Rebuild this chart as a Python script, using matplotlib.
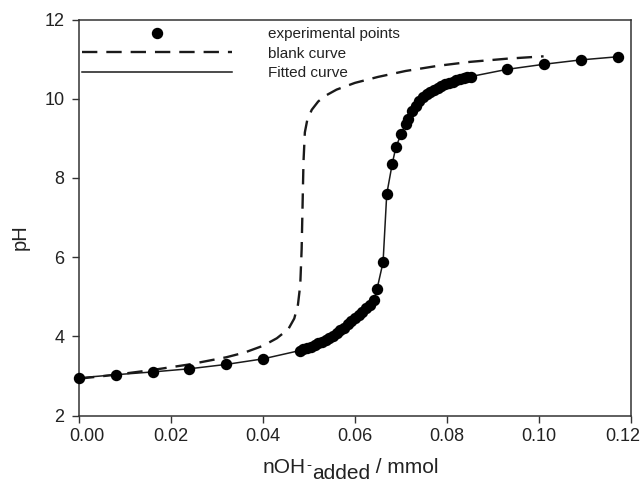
import matplotlib
matplotlib.use("Agg")
import matplotlib.pyplot as plt
from matplotlib.lines import Line2D
from matplotlib.transforms import ScaledTranslation

plt.rcParams['font.family'] = ['Liberation Sans', 'DejaVu Sans']

# experimental titration points (nOH- added / mmol, pH)
exp_x = [0.000, 0.008, 0.016, 0.024, 0.032, 0.040,
         0.0480, 0.0488, 0.0496, 0.0504, 0.0512, 0.0520, 0.0528, 0.0536, 0.0544,
         0.0552, 0.0560, 0.0568, 0.0576, 0.0584, 0.0592, 0.0600, 0.0608, 0.0616,
         0.0624, 0.0632, 0.0641, 0.0648, 0.0661, 0.0669, 0.0681, 0.0689, 0.0700,
         0.0710, 0.0716, 0.0724, 0.0732, 0.0740, 0.0748, 0.0756, 0.0764, 0.0772,
         0.0780, 0.0788, 0.0796, 0.0804, 0.0812, 0.0820, 0.0828, 0.0836, 0.0844,
         0.0852, 0.0930, 0.1011, 0.1091, 0.1172]
exp_ph = [2.95, 3.03, 3.10, 3.18, 3.29, 3.43,
          3.64, 3.67, 3.70, 3.74, 3.78, 3.82, 3.86, 3.91, 3.96,
          4.02, 4.08, 4.15, 4.22, 4.30, 4.38, 4.46, 4.54, 4.62,
          4.71, 4.80, 4.91, 5.20, 5.87, 7.59, 8.36, 8.78, 9.10,
          9.35, 9.50, 9.68, 9.82, 9.95, 10.05, 10.12, 10.18, 10.23,
          10.28, 10.32, 10.36, 10.39, 10.43, 10.46, 10.49, 10.52, 10.54,
          10.56, 10.74, 10.87, 10.98, 11.06]

# blank titration curve
blank_x = [0.000, 0.008, 0.016, 0.024, 0.032, 0.036, 0.040, 0.043, 0.0455,
           0.0468, 0.0476, 0.0481, 0.0484, 0.0486, 0.0488, 0.0491, 0.0496,
           0.0506, 0.0520, 0.0535, 0.0560, 0.0600, 0.0650, 0.0710, 0.0780,
           0.0850, 0.0930, 0.1010]
blank_ph = [2.93, 3.03, 3.15, 3.29, 3.47, 3.59, 3.76, 3.95, 4.18,
            4.45, 4.80, 5.30, 6.20, 7.30, 8.40, 9.15, 9.45,
            9.72, 9.93, 10.07, 10.23, 10.40, 10.55, 10.70, 10.83,
            10.93, 11.01, 11.07]

x_ticks = [0.00, 0.02, 0.04, 0.06, 0.08, 0.10, 0.12]
y_ticks = [2, 4, 6, 8, 10, 12]
legend_labels = ['experimental points', 'blank curve', 'Fitted curve']

fig = plt.figure(figsize=(6.41, 4.82), dpi=100)
ax = fig.add_axes([79/641, 1-415.5/482, (631-79)/641, (415.5-19.5)/482])

dark = '#1a1a1a'
txt = '#222222'
dash = (0, (6.5, 3.8))
ax.plot(blank_x, blank_ph, color=dark, lw=1.7, linestyle=dash,
        dash_capstyle='butt')
ax.plot(exp_x, exp_ph, color=dark, lw=1.1)
ax.plot(exp_x, exp_ph, 'o', color='black', ms=7.2, clip_on=False, zorder=5)

ax.set_xlim(0, 0.12)
ax.set_ylim(2, 12)
ax.set_xticks(x_ticks)
ax.set_xticklabels([f"{t:.2f}" for t in x_ticks])
ax.set_yticks(y_ticks)
ax.tick_params(direction='out', length=5, width=1, labelsize=13,
               colors='#333333', labelcolor=txt, top=False, right=False)
ax.tick_params(axis='y', pad=5.5)
ax.tick_params(axis='x', pad=4)
for s in ax.spines.values():
    s.set_linewidth(1.1)
    s.set_color('#333333')

# end tick labels are pulled inward in the original
xl = ax.get_xticklabels()
xl[0].set_transform(xl[0].get_transform() + ScaledTranslation(8/100, 0, fig.dpi_scale_trans))
xl[-1].set_transform(xl[-1].get_transform() + ScaledTranslation(-8/100, 0, fig.dpi_scale_trans))

ax.set_ylabel('pH', fontsize=14.5, color=txt)
ax.yaxis.set_label_coords(-0.089, 0.45)

# x label built from pieces (full-size lowered subscript)
fs = 15
t1 = fig.text(263, 482-473, 'nOH', fontsize=fs, color=txt, ha='left',
              va='baseline', transform=None)
t2 = ax.annotate('-', xy=(1, 482-469), xycoords=(t1, 'figure pixels'),
                 xytext=(0.5, 0), textcoords='offset points', fontsize=11,
                 color=txt, ha='left', va='baseline', annotation_clip=False)
t3 = ax.annotate('added', xy=(1, 482-479), xycoords=(t2, 'figure pixels'),
                 xytext=(0.2, 0), textcoords='offset points', fontsize=fs,
                 color=txt, ha='left', va='baseline', annotation_clip=False)
t4 = ax.annotate(' / mmol', xy=(1, 482-473), xycoords=(t3, 'figure pixels'),
                 fontsize=fs, color=txt, ha='left', va='baseline',
                 annotation_clip=False)

handles = [Line2D([], [], marker='o', color='black', ls='none', ms=7.2),
           Line2D([], [], color=dark, lw=1.7, linestyle=dash),
           Line2D([], [], color=dark, lw=1.1)]
leg = ax.legend(handles, legend_labels, loc='upper left',
                bbox_to_anchor=(0, 1 - 4.7/396),
                frameon=False, fontsize=11, handlelength=9.8, handletextpad=2.35,
                borderaxespad=0, borderpad=0.2, labelspacing=0.35, numpoints=1)
for t in leg.get_texts():
    t.set_color(txt)

fig.savefig('out.png', dpi=100)
